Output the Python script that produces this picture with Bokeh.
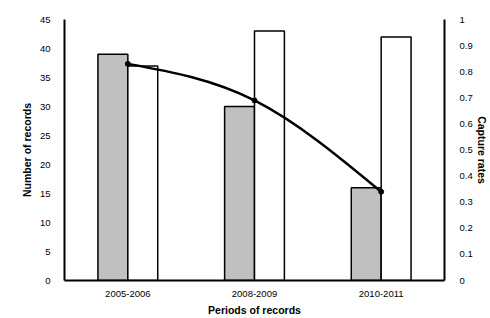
from bokeh.plotting import figure
from bokeh.models import Range1d, LinearAxis, FixedTicker, ColumnDataSource
from bokeh.embed import file_html
from bokeh.resources import INLINE

periods = ["2005-2006", "2008-2009", "2010-2011"]
records_gray = [39, 30, 16]
records_white = [37, 43, 42]
capture_rates = [0.83, 0.69, 0.34]
left_ticks = [0, 5, 10, 15, 20, 25, 30, 35, 40, 45]
right_ticks = [0, 0.1, 0.2, 0.3, 0.4, 0.5, 0.6, 0.7, 0.8, 0.9, 1]

FONT = "Liberation Sans"
n = len(periods)
centers = [i + 0.5 for i in range(n)]
bw = 0.236

p = figure(width=490, height=318, output_backend="svg", toolbar_location=None,
           x_range=Range1d(0, n), y_range=Range1d(0, 45),
           min_border_left=64, min_border_right=45, min_border_top=19, min_border_bottom=38)
p.outline_line_color = None
p.xgrid.visible = False
p.ygrid.visible = False
p.background_fill_color = "white"
p.border_fill_color = "white"

p.extra_y_ranges = {"rate": Range1d(0, 1)}

src = ColumnDataSource(dict(
    xg=[c - bw / 2 for c in centers],
    xw=[c + bw / 2 for c in centers],
    g=records_gray, w=records_white))
p.vbar(x="xg", top="g", width=bw, source=src, fill_color="#c0c0c0",
       line_color="black", line_width=1.5)
p.vbar(x="xw", top="w", width=bw, source=src, fill_color="white",
       line_color="black", line_width=1.5)

# smooth curve through the capture rates (cubic spline, natural ends)
xs = centers
ys = capture_rates
m = [0.0] * n
for i in range(1, n - 1):
    m[i] = ((xs[i + 1] - xs[i - 1]) / 2, (ys[i + 1] - ys[i - 1]) / 2)
m[0] = ((3 * (xs[1] - xs[0]) - m[1][0]) / 2, (3 * (ys[1] - ys[0]) - m[1][1]) / 2)
m[-1] = ((3 * (xs[-1] - xs[-2]) - m[-2][0]) / 2, (3 * (ys[-1] - ys[-2]) - m[-2][1]) / 2)
bz = dict(x0=[], y0=[], x1=[], y1=[], cx0=[], cy0=[], cx1=[], cy1=[])
for i in range(n - 1):
    bz["x0"].append(xs[i]); bz["y0"].append(ys[i])
    bz["x1"].append(xs[i + 1]); bz["y1"].append(ys[i + 1])
    bz["cx0"].append(xs[i] + m[i][0] / 3); bz["cy0"].append(ys[i] + m[i][1] / 3)
    bz["cx1"].append(xs[i + 1] - m[i + 1][0] / 3); bz["cy1"].append(ys[i + 1] - m[i + 1][1] / 3)
p.bezier(source=ColumnDataSource(bz), x0="x0", y0="y0", x1="x1", y1="y1",
         cx0="cx0", cy0="cy0", cx1="cx1", cy1="cy1",
         line_color="black", line_width=2.5, y_range_name="rate")
p.scatter(xs, ys, size=5, color="black", y_range_name="rate")

# axes styling
def style(ax):
    ax.major_tick_line_color = None
    ax.minor_tick_line_color = None
    ax.axis_line_color = "black"
    ax.axis_line_width = 2
    ax.major_label_text_font = FONT
    ax.major_label_text_font_size = "9.5px"
    ax.major_label_text_color = "black"
    ax.axis_label_text_font = FONT
    ax.axis_label_text_font_size = "10.5px"
    ax.axis_label_text_font_style = "bold"
    ax.axis_label_text_color = "black"

xa = p.xaxis[0]
style(xa)
xa.ticker = FixedTicker(ticks=centers)
xa.major_label_overrides = {c: lab for c, lab in zip(centers, periods)}
xa.axis_label = "Periods of records"
xa.major_label_standoff = 4
xa.axis_label_standoff = 4

ya = p.yaxis[0]
style(ya)
ya.ticker = FixedTicker(ticks=left_ticks)
ya.axis_label = "Number of records"
ya.major_label_standoff = 8
ya.axis_label_standoff = 4

ra = LinearAxis(y_range_name="rate")
style(ra)
ra.ticker = FixedTicker(ticks=right_ticks)
ra.major_label_overrides = {t: ("%g" % t) for t in right_ticks}
ra.axis_label = "Capture rates"
ra.major_label_standoff = 9
ra.axis_label_standoff = 0
p.add_layout(ra, "right")

open("out.html", "w").write(file_html(p, INLINE))
